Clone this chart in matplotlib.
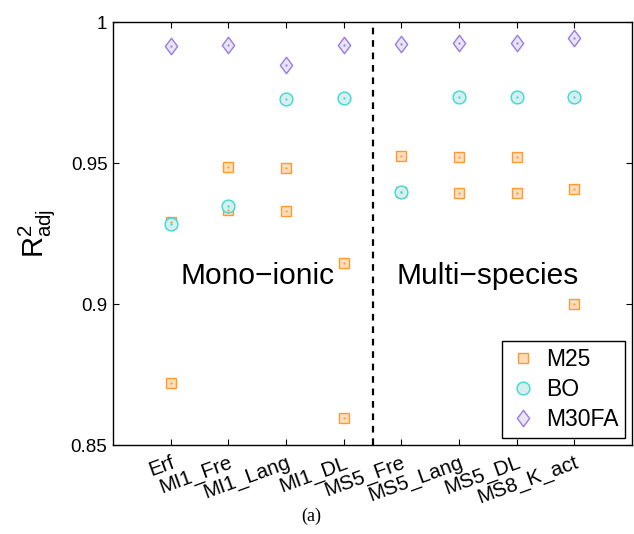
import matplotlib
matplotlib.use("Agg")
import matplotlib.pyplot as plt
from matplotlib.path import Path
import numpy as np

plt.rcParams['font.family'] = ['Liberation Sans', 'DejaVu Sans']
plt.rcParams['mathtext.fontset'] = 'custom'
plt.rcParams['mathtext.rm'] = 'Liberation Sans'
plt.rcParams['mathtext.it'] = 'Liberation Sans'

categories = ["Erf", "MI1_Fre", "MI1_Lang", "MI1_DL",
              "MS5_Fre", "MS5_Lang", "MS5_DL", "MS8_K_act"]

# M25 (two fits per model)
m25_a = [0.9293, 0.9486, 0.9482, 0.9147, 0.9525, 0.9522, 0.9522, 0.9408]
m25_b = [0.8721, 0.9333, 0.9331, 0.8596, 0.9397, 0.9396, 0.9396, 0.9000]
# BO
bo = [0.9286, 0.9348, 0.9729, 0.9730, 0.9397, 0.9734, 0.9734, 0.9735]
# M30FA
m30fa = [0.9915, 0.9920, 0.9850, 0.9920, 0.9922, 0.9927, 0.9927, 0.9943]

yticks = [0.85, 0.9, 0.95, 1.0]
yticklabels = ["0.85", "0.9", "0.95", "1"]

diamond = Path([(0, 1), (0.75, 0), (0, -1), (-0.75, 0), (0, 1)],
               [Path.MOVETO, Path.LINETO, Path.LINETO, Path.LINETO, Path.CLOSEPOLY])

sq_edge, sq_face = '#FF9A2E', '#FFDDBF'
ci_edge, ci_face = '#3ADAD4', '#D6EEEE'
di_edge, di_face = '#9A7BE0', '#E8E5F7'

fig = plt.figure(figsize=(6.34, 5.34), dpi=100)
ax = fig.add_axes([113/634, 89/534, 519/634, 422.7/534])

x = np.arange(1, len(categories) + 1)

def plot_series(yvals, marker, ms, ec, fc, label=None):
    xs = [xi for xi, v in zip(x, yvals) if v is not None]
    ys = [v for v in yvals if v is not None]
    h = ax.plot(xs, ys, linestyle='none', marker=marker, markersize=ms,
                markeredgecolor=ec, markerfacecolor=fc, markeredgewidth=1.0,
                label=label, zorder=3)
    ax.plot(xs, ys, linestyle='none', marker='s', markersize=1.0,
            markeredgecolor=ec, markerfacecolor=ec, markeredgewidth=0.3, zorder=4)
    return h

plot_series(m25_a, 's', 7.2, sq_edge, sq_face, 'M25')
plot_series(m25_b, 's', 7.2, sq_edge, sq_face)
plot_series(bo, 'o', 9.2, ci_edge, ci_face, 'BO')
plot_series(m30fa, diamond, 11.8, di_edge, di_face, 'M30FA')

ax.axvline(4.5, color='black', linestyle=(0, (3, 2.6)), linewidth=1.6, zorder=2)

ax.set_xlim(0, 9)
ax.set_ylim(0.85, 1.0)
ax.set_xticks(x)
ax.set_xticklabels(categories, rotation=20, ha='right', rotation_mode='anchor',
                   fontsize=14.8)
ax.set_yticks(yticks)
ax.set_yticklabels(yticklabels, fontsize=13.5)
ax.tick_params(axis='both', direction='in', top=True, right=True, length=4,
               width=0.8, pad=4)
ax.tick_params(axis='x', pad=6)
for s in ax.spines.values():
    s.set_linewidth(1.0)

ax.set_ylabel(r'$\mathrm{R}^2_{\mathrm{adj}}$', fontsize=21, labelpad=10)

ax.text(2.5, 0.910, 'Mono\u2212ionic', fontsize=21.5, ha='center', va='center')
ax.text(6.49, 0.910, 'Multi\u2212species', fontsize=21.5, ha='center', va='center')

leg = ax.legend(loc='lower right', fontsize=16.5, frameon=True, fancybox=False,
                edgecolor='black', framealpha=1, borderpad=0.3,
                handletextpad=0.4, handlelength=1.2, labelspacing=0.32,
                borderaxespad=0.3)
leg.get_frame().set_linewidth(1.0)

fig.text(311/634, 1 - 516/534, '(a)', fontsize=13, ha='center', va='center',
         family=['Liberation Serif', 'DejaVu Serif'])

fig.savefig('out.png', dpi=100)
